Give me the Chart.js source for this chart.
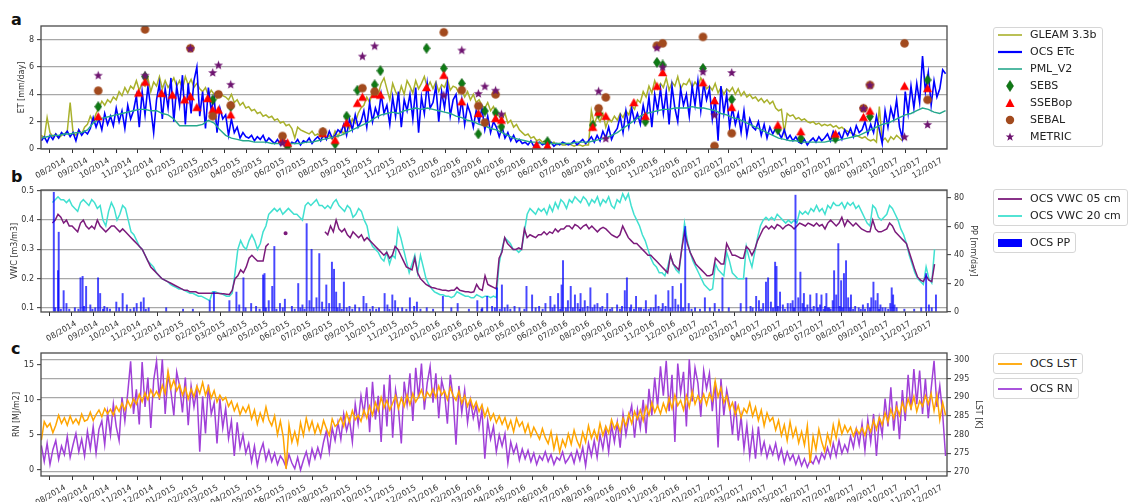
<!DOCTYPE html>
<html>
<head>
<meta charset="utf-8">
<script src="https://cdn.jsdelivr.net/npm/chart.js@4.4.1/dist/chart.umd.min.js"></script>
<style>
  html, body { margin: 0; padding: 0; background: #fff; }
  body { width: 1128px; height: 502px; position: relative; overflow: hidden; font-family: "DejaVu Sans", sans-serif; }
  .pane { position: absolute; left: 0; width: 1128px; }
  .tag { position: absolute; left: 11px; font: bold 16px/16px "DejaVu Sans", sans-serif; color: #111; }
  .legend { position: absolute; box-sizing: border-box; border: 1px solid #d6d6d6; border-radius: 3px; background: #fff; }
  .row { position: absolute; left: 0; height: 14px; font: 11px/14px "DejaVu Sans", sans-serif; color: #222; white-space: nowrap; }
  .row svg { position: absolute; left: 3px; top: 0; }
  .row span { position: absolute; left: 36px; top: 0; }
</style>
</head>
<body>

<div class="tag" style="top:12px">a</div>
<div class="tag" style="top:169px">b</div>
<div class="tag" style="top:341px">c</div>

<div class="pane" style="top:0;height:182px"><canvas id="chartET"></canvas></div>
<div class="pane" style="top:182px;height:160px"><canvas id="chartVWC"></canvas></div>
<div class="pane" style="top:342px;height:160px"><canvas id="chartRN"></canvas></div>

<!-- legends -->
<div class="legend" style="left:993px;top:27px;width:110px;height:120px">
  <div class="row" style="top:0px"><svg width="26" height="14"><line x1="1" y1="7" x2="25" y2="7" stroke="#a9b12c" stroke-width="1.6"/></svg><span>GLEAM 3.3b</span></div>
  <div class="row" style="top:17px"><svg width="26" height="14"><line x1="1" y1="7" x2="25" y2="7" stroke="#0000ff" stroke-width="2.2"/></svg><span>OCS ETc</span></div>
  <div class="row" style="top:34px"><svg width="26" height="14"><line x1="1" y1="7" x2="25" y2="7" stroke="#26a88c" stroke-width="1.6"/></svg><span>PML_V2</span></div>
  <div class="row" style="top:51px"><svg width="26" height="14"><polygon points="13,1.5 16.5,7 13,12.5 9.5,7" fill="#0e7a14" stroke="#0a5a0e" stroke-width="0.6"/></svg><span>SEBS</span></div>
  <div class="row" style="top:68px"><svg width="26" height="14"><polygon points="13,2.5 17.5,11 8.5,11" fill="#ff0000"/></svg><span>SSEBop</span></div>
  <div class="row" style="top:85px"><svg width="26" height="14"><circle cx="13" cy="7" r="4.2" fill="#a24a1e"/></svg><span>SEBAL</span></div>
  <div class="row" style="top:102px"><svg width="26" height="14"><polygon points="13,2.5 14.1,5.6 17.3,5.6 14.7,7.6 15.7,10.8 13,8.9 10.3,10.8 11.3,7.6 8.7,5.6 11.9,5.6" fill="#6e1470"/></svg><span>METRIC</span></div>
</div>

<div class="legend" style="left:993px;top:189px;width:135px;height:37px">
  <div class="row" style="top:2px"><svg width="26" height="14"><line x1="1" y1="7" x2="25" y2="7" stroke="#7b1a7b" stroke-width="1.8"/></svg><span>OCS VWC 05 cm</span></div>
  <div class="row" style="top:19px"><svg width="26" height="14"><line x1="1" y1="7" x2="25" y2="7" stroke="#40e0d0" stroke-width="1.8"/></svg><span>OCS VWC 20 cm</span></div>
</div>
<div class="legend" style="left:993px;top:232px;width:83px;height:21px">
  <div class="row" style="top:3px"><svg width="26" height="14"><rect x="1" y="3" width="24" height="8" fill="#0000ff"/></svg><span>OCS PP</span></div>
</div>

<div class="legend" style="left:993px;top:353px;width:90px;height:21px">
  <div class="row" style="top:3px"><svg width="26" height="14"><line x1="1" y1="7" x2="25" y2="7" stroke="#ffa500" stroke-width="1.8"/></svg><span>OCS LST</span></div>
</div>
<div class="legend" style="left:993px;top:378px;width:86px;height:21px">
  <div class="row" style="top:3px"><svg width="26" height="14"><line x1="1" y1="7" x2="25" y2="7" stroke="#a040d8" stroke-width="1.8"/></svg><span>OCS RN</span></div>
</div>

<script>
// ---------------------------------------------------------------
// Daily-ish series sampled every 4 days starting 2014-07-20
// ---------------------------------------------------------------
const seriesStart = '2014-07-20';
const seriesStepDays = 4;
const pmlStepDays = 8;
const axisOrigin = '2014-08-01';

// OCS ETc [mm/day]
const ocsETc = [
  0.6,0.9,0.5,1.0,0.7,1.1,0.8,1.2,
  1.0,1.3,0.9,1.2,0.6,1.4,1.0,1.3,
  1.1,1.5,2.3,1.6,2.2,1.4,2.6,1.8,
  2.4,1.7,3.0,2.0,2.8,1.5,3.2,2.2,
  2.8,3.9,1.6,4.2,2.5,4.6,3.0,1.2,
  3.6,4.8,2.2,4.4,3.0,5.2,2.0,4.6,
  3.2,5.4,1.8,4.8,2.6,5.0,6.0,2.4,
  4.2,1.5,4.5,2.8,3.8,1.2,3.0,2.2,
  2.5,1.0,2.2,1.2,1.6,0.8,1.2,0.9,
  0.8,1.0,0.6,0.9,0.7,1.0,0.5,0.8,
  0.6,0.4,0.7,0.3,0.5,0.6,0.2,0.5,
  0.4,0.7,0.3,0.6,0.5,0.8,0.4,0.7,
  0.9,0.6,1.1,0.7,1.3,0.8,1.0,1.4,
  1.2,1.8,1.0,2.2,1.4,2.5,1.6,2.0,
  2.8,1.6,3.4,2.0,3.0,2.4,4.0,2.6,
  3.2,1.8,3.8,2.4,4.2,1.6,3.6,2.8,
  4.0,2.2,4.5,1.2,3.8,2.6,4.8,3.0,
  3.4,4.6,2.0,4.2,3.0,4.8,2.4,3.6,
  4.0,2.2,3.6,1.8,3.2,2.6,1.6,2.8,
  2.0,3.0,1.4,2.4,1.2,2.0,1.6,0.9,
  1.6,0.8,1.2,0.6,1.0,0.5,0.7,0.4,
  0.5,0.3,0.6,0.2,0.4,0.5,0.3,0.4,
  0.3,0.5,0.2,0.4,0.3,0.5,0.4,0.3,
  0.4,0.6,0.3,0.5,0.7,0.4,0.6,0.9,
  0.5,1.0,0.6,1.3,0.8,1.6,0.7,1.2,
  1.5,2.4,1.2,2.8,1.6,3.0,2.0,2.6,
  1.8,3.2,2.2,3.8,1.6,4.0,2.8,4.4,
  2.6,4.2,1.8,4.6,3.0,2.0,4.4,3.2,
  4.0,2.4,4.6,3.2,5.0,2.8,4.8,3.6,
  4.4,2.2,3.8,0.6,4.6,2.6,4.0,1.6,
  3.0,1.8,2.6,1.2,2.8,1.0,2.2,1.6,
  1.4,2.0,1.0,1.8,0.8,1.6,1.1,1.5,
  1.2,0.8,1.4,0.7,1.0,0.6,0.9,0.5,
  0.4,0.7,0.3,0.6,0.8,0.5,0.9,0.6,
  0.8,1.1,0.6,1.3,0.9,1.2,0.7,1.4,
  1.0,1.5,0.9,1.7,1.2,1.4,2.0,1.1,
  1.8,1.2,2.4,1.4,0.4,2.8,1.6,3.0,
  2.2,3.6,1.6,0.8,4.2,2.6,4.6,3.0,
  4.8,3.4,6.8,4.2,5.6,3.2,5.0,3.8,
  4.4,5.8,5.5
];

// GLEAM 3.3b ET [mm/day]
const gleamET = [
  1.0,0.8,2.3,1.2,0.9,1.1,0.8,1.0,
  1.1,1.3,3.4,1.2,1.0,1.4,1.1,1.6,
  1.8,2.4,2.0,2.6,3.0,3.5,3.2,3.6,
  3.4,3.8,3.6,4.2,3.9,4.5,4.1,4.6,
  4.4,5.0,4.3,4.8,4.6,5.2,4.2,4.9,
  4.6,5.3,4.4,5.0,4.5,4.8,5.2,4.6,
  5.0,4.4,5.3,4.7,5.1,4.5,4.8,4.4,
  4.2,4.5,3.9,4.3,4.0,3.7,4.1,3.9,
  3.8,3.6,4.0,3.4,3.6,3.2,3.4,3.0,
  3.1,2.8,2.9,2.6,2.7,2.4,2.5,2.3,
  2.4,2.1,2.2,1.9,2.0,1.7,1.8,1.5,
  0.8,1.6,1.4,1.3,1.2,1.1,1.3,1.0,
  1.1,0.9,1.2,0.8,1.0,0.7,1.3,0.9,
  1.4,1.1,1.8,1.5,2.2,1.9,2.6,3.0,
  3.2,3.8,3.4,4.2,4.6,4.0,4.8,5.2,
  4.4,3.6,4.8,4.2,3.8,4.6,4.0,5.0,
  4.6,4.1,5.0,4.4,4.8,5.3,4.5,4.9,
  4.4,4.9,4.2,4.7,4.5,5.1,4.3,4.6,
  4.5,4.1,4.3,3.8,4.2,3.6,4.0,3.4,
  3.6,3.2,3.0,3.4,2.8,3.1,2.6,2.4,
  2.2,2.6,1.9,2.1,1.6,1.8,1.4,1.2,
  1.0,1.1,0.8,0.9,0.6,0.7,0.5,0.6,
  0.5,0.4,0.5,0.3,0.4,0.3,0.3,0.4,
  0.3,0.2,0.3,0.3,0.2,0.3,0.3,2.8,
  1.8,2.4,2.0,2.6,1.6,2.2,2.0,2.4,
  2.1,2.6,2.3,2.8,2.5,3.2,2.9,3.6,
  3.4,4.2,3.8,4.6,4.1,5.0,4.4,4.8,
  4.5,5.2,4.3,4.9,4.6,5.3,4.4,4.8,
  4.7,5.1,4.5,4.9,4.6,5.2,4.8,4.4,
  4.6,4.3,4.8,4.1,4.5,4.0,4.4,4.2,
  4.5,4.0,4.4,3.9,4.2,3.8,4.0,3.7,
  3.8,3.5,3.7,3.4,3.6,3.3,3.5,3.0,
  2.8,2.9,1.2,2.6,2.4,2.5,2.2,2.3,
  2.1,2.2,2.0,1.9,2.0,1.8,1.9,1.7,
  1.8,1.7,1.8,1.6,1.7,1.5,1.6,1.4,
  1.3,1.2,1.1,1.0,0.9,0.8,0.9,0.7,
  0.6,0.7,0.5,3.1,0.6,0.8,0.5,0.9,
  0.7,1.0,0.8,0.6
];

// PML_V2 ET [mm/day], 8-day composites
const pmlET = [
  0.8,0.9,1.0,1.0,1.1,1.1,1.2,1.2,
  1.4,1.9,2.2,2.3,2.4,2.5,2.6,2.7,
  2.8,2.9,2.9,2.8,2.8,2.6,2.5,2.2,
  1.7,1.7,1.7,1.7,1.8,2.1,1.9,1.4,
  1.0,0.8,0.7,0.6,0.6,0.5,0.5,0.5,
  0.4,0.4,0.4,0.4,0.4,0.4,0.5,0.5,
  0.6,0.7,0.8,0.9,1.0,1.2,1.4,1.6,
  1.8,2.0,2.3,2.5,2.6,2.7,2.6,2.8,
  2.9,3.0,2.9,3.0,2.9,2.8,2.7,2.6,
  2.4,2.3,2.1,2.0,1.8,1.7,1.5,1.4,
  1.2,1.0,0.8,0.7,0.6,0.5,0.5,0.4,
  0.4,0.4,0.4,0.4,0.4,0.5,0.5,0.5,
  0.6,0.7,0.8,1.0,1.2,1.5,1.8,2.1,
  2.4,2.6,2.7,2.8,2.9,2.9,3.0,3.0,
  3.0,3.1,3.0,3.0,2.9,2.8,2.6,2.5,
  2.3,2.2,2.0,1.8,1.6,1.4,1.2,1.0,
  0.8,0.7,0.6,0.6,0.5,0.5,0.5,0.5,
  0.5,0.6,0.6,0.7,0.8,0.9,1.0,1.2,
  1.4,1.6,1.8,1.9,2.1,2.3,2.5,2.6,
  2.8,3.0,2.9,2.7,2.6,2.8
];

// Satellite model ET estimates [mm/day] on overpass dates
const sebsDates = ['2014-10-07','2014-12-11','2015-03-15','2015-04-09','2015-06-27','2015-08-15','2015-09-01','2015-09-17','2015-10-02','2015-10-26','2015-11-03','2016-01-06','2016-01-30','2016-02-24','2016-03-18','2016-03-27','2016-04-11','2016-04-19','2016-06-22','2016-08-24','2016-09-01','2016-11-05','2016-11-21','2016-11-29','2017-01-24','2017-03-05','2017-05-08','2017-06-09','2017-07-27','2017-09-13','2017-12-02'];
const sebsET = [3.1,5.3,3.6,3.1,0.17,1.2,0.37,2.4,4.3,4.7,5.73,7.37,5.9,4.8,1.1,2.78,2.66,1.63,0.54,1.75,2.6,2.0,6.34,6.15,5.9,3.63,1.4,0.78,0.78,2.37,5.05];

const ssebopDates = ['2014-10-07','2014-12-02','2014-12-11','2015-01-03','2015-01-18','2015-02-04','2015-02-12','2015-02-21','2015-03-08','2015-03-15','2015-03-23','2015-04-09','2015-06-20','2015-06-27','2015-08-15','2015-09-01','2015-09-17','2015-10-02','2015-10-09','2015-10-26','2015-11-03','2016-01-06','2016-01-30','2016-02-24','2016-03-18','2016-04-11','2016-04-19','2016-06-07','2016-06-22','2016-08-24','2016-09-01','2016-09-11','2016-10-20','2016-11-05','2016-11-21','2016-11-29','2017-01-24','2017-02-09','2017-03-05','2017-05-08','2017-06-09','2017-07-27','2017-09-04','2017-09-13','2017-10-31','2017-12-02'];
const ssebopET = [2.37,4.1,4.9,4.07,3.95,3.6,3.83,3.05,3.7,2.85,2.85,2.5,0.7,0.45,1.15,0.65,1.9,3.35,3.8,4.0,3.95,4.5,5.4,3.46,2.6,2.24,2.12,0.3,0.24,1.6,2.7,2.4,3.4,2.4,4.6,5.6,4.85,3.54,3.05,1.75,1.27,1.1,2.32,2.78,4.6,4.44];

const sebalDates = ['2014-10-07','2014-12-11','2015-02-12','2015-03-15','2015-03-23','2015-04-09','2015-06-20','2015-08-15','2015-10-09','2015-10-26','2016-01-30','2016-02-24','2016-03-18','2016-03-27','2016-04-11','2016-09-01','2016-09-11','2016-11-21','2016-11-29','2017-01-24','2017-02-09','2017-03-05','2017-09-04','2017-09-13','2017-10-31','2017-12-02'];
const sebalET = [4.27,8.75,7.37,2.4,4.0,3.2,0.95,1.27,4.45,4.2,8.54,4.3,3.15,1.93,4.0,2.98,3.78,7.56,7.73,8.2,0.22,1.15,2.98,4.68,7.73,3.6];

const metricDates = ['2014-10-07','2014-12-11','2015-02-12','2015-03-15','2015-03-23','2015-04-09','2015-06-20','2015-10-09','2015-10-26','2016-01-30','2016-02-24','2016-03-18','2016-03-27','2016-04-11','2016-04-19','2016-09-01','2016-09-11','2016-11-21','2016-11-29','2017-01-24','2017-02-09','2017-03-05','2017-09-04','2017-09-13','2017-10-31','2017-12-02'];
const metricET = [5.4,5.4,7.37,5.6,6.15,4.73,0.45,6.8,7.55,3.95,7.24,4.07,4.6,4.3,2.56,4.24,0.78,7.41,6.0,5.66,2.5,5.6,2.98,4.68,0.9,1.8];

// Volumetric water content [m3/m3]
const vwc05 = [
  0.39,0.40,0.42,0.41,0.39,0.40,0.38,0.38,
  0.37,0.36,0.39,0.40,0.38,0.37,0.38,0.37,
  0.40,0.38,0.37,0.36,0.37,0.38,0.38,0.37,
  0.36,0.37,0.36,0.35,0.34,0.33,0.32,0.31,
  0.30,0.28,0.26,0.24,0.23,0.22,0.21,0.20,
  0.195,0.19,0.185,0.18,0.175,0.17,0.165,0.16,
  0.16,0.155,0.155,0.155,0.15,0.15,0.15,0.15,
  0.15,0.15,0.15,0.15,0.148,0.148,0.147,0.146,
  0.16,0.20,0.21,0.23,0.22,0.24,0.27,0.28,
  0.27,0.26,0.26,0.26,0.31,0.32,null,null,
  null,null,null,0.355,null,null,null,null,
  null,null,null,null,null,null,null,null,
  null,0.36,0.35,0.38,0.36,0.40,0.37,0.36,
  0.37,0.35,0.34,0.36,0.35,0.34,0.35,0.33,
  0.34,0.33,0.32,0.31,0.30,0.29,0.28,0.29,
  0.27,0.28,0.31,0.30,0.28,0.26,0.24,0.235,
  0.23,0.27,0.22,0.20,0.19,0.18,0.175,0.17,
  0.168,0.165,0.163,0.16,0.16,0.158,0.16,0.16,
  0.17,0.16,0.158,0.155,0.155,0.153,0.155,0.18,
  0.165,0.16,0.21,0.18,0.175,0.17,0.165,0.27,
  0.29,0.34,0.32,0.31,0.30,0.30,0.305,0.30,
  0.37,0.34,0.35,0.345,0.34,0.35,0.35,0.36,
  0.35,0.36,0.355,0.37,0.36,0.37,0.37,0.38,
  0.38,0.37,0.385,0.38,0.37,0.38,0.385,0.37,
  0.38,0.37,0.36,0.37,0.375,0.37,0.36,0.35,
  0.345,0.34,0.35,0.38,0.36,0.34,0.33,0.32,
  0.32,0.31,0.30,0.29,0.28,0.28,0.27,0.26,
  0.25,0.24,0.23,0.22,0.28,0.25,0.24,0.23,
  0.30,0.36,0.32,0.29,0.27,0.25,0.24,0.23,
  0.22,0.21,0.21,0.215,0.27,0.26,0.25,0.25,
  0.32,0.30,0.28,0.28,0.275,0.27,0.27,0.31,
  0.30,0.28,0.30,0.33,0.35,0.37,0.38,0.37,
  0.38,0.37,0.385,0.38,0.37,0.38,0.385,0.38,
  0.37,0.38,0.39,0.385,0.38,0.39,0.385,0.38,
  0.39,0.38,0.385,0.37,0.39,0.40,0.39,0.38,
  0.39,0.41,0.38,0.40,0.39,0.38,0.39,0.38,
  0.37,0.365,0.36,0.36,0.40,0.37,0.36,0.36,
  0.365,0.37,0.39,0.38,0.36,0.35,0.34,0.33,
  0.32,0.29,0.26,0.23,0.205,0.195,0.19,0.21,
  0.195,0.19,0.25
];

const vwc20 = [
  0.46,0.47,0.48,0.47,0.47,0.46,0.47,0.45,
  0.44,0.43,0.46,0.47,0.46,0.45,0.47,0.46,
  0.44,0.45,0.40,0.38,0.43,0.46,0.44,0.40,
  0.42,0.45,0.44,0.40,0.36,0.35,0.33,0.31,
  0.30,0.28,0.26,0.25,0.24,0.22,0.21,0.20,
  0.195,0.19,0.18,0.175,0.17,0.165,0.165,0.16,
  0.155,0.15,0.15,0.145,0.14,0.14,0.135,0.13,
  0.125,0.155,0.155,0.15,0.15,0.145,0.14,0.14,
  0.15,0.22,0.30,0.33,0.31,0.30,0.33,0.35,
  0.33,0.30,0.32,0.36,0.38,0.42,0.43,0.44,
  0.43,0.44,0.42,0.43,0.44,0.43,0.42,0.42,
  0.41,0.40,0.45,0.46,0.45,0.46,0.47,0.45,
  0.45,0.44,0.45,0.44,0.46,0.47,0.45,0.44,
  0.43,0.45,0.44,0.41,0.42,0.44,0.43,0.40,
  0.38,0.33,0.31,0.30,0.29,0.27,0.26,0.29,
  0.25,0.28,0.27,0.37,0.34,0.30,0.26,0.22,
  0.25,0.28,0.22,0.28,0.24,0.20,0.18,0.165,
  0.155,0.15,0.145,0.145,0.14,0.14,0.135,0.14,
  0.155,0.15,0.145,0.14,0.14,0.135,0.135,0.145,
  0.14,0.135,0.14,0.14,0.135,0.14,0.135,0.25,
  0.30,0.34,0.33,0.32,0.30,0.30,0.29,0.30,
  0.36,0.42,0.44,0.43,0.42,0.44,0.43,0.44,
  0.42,0.45,0.43,0.46,0.44,0.47,0.46,0.44,
  0.47,0.46,0.48,0.47,0.46,0.48,0.47,0.45,
  0.47,0.46,0.48,0.45,0.47,0.46,0.48,0.45,
  0.44,0.47,0.46,0.49,0.47,0.49,0.45,0.42,
  0.40,0.38,0.35,0.33,0.30,0.27,0.25,0.24,
  0.22,0.22,0.21,0.24,0.28,0.25,0.23,0.22,
  0.30,0.39,0.33,0.29,0.26,0.24,0.22,0.20,
  0.18,0.17,0.16,0.165,0.25,0.23,0.22,0.21,
  0.29,0.26,0.22,0.21,0.20,0.20,0.20,0.31,
  0.27,0.24,0.29,0.34,0.38,0.40,0.41,0.40,
  0.41,0.40,0.42,0.41,0.40,0.39,0.40,0.39,
  0.40,0.39,0.43,0.42,0.43,0.42,0.44,0.43,
  0.45,0.43,0.44,0.42,0.45,0.44,0.46,0.45,
  0.45,0.46,0.44,0.46,0.45,0.46,0.44,0.45,
  0.43,0.41,0.39,0.38,0.45,0.44,0.41,0.40,
  0.41,0.42,0.45,0.44,0.42,0.40,0.37,0.35,
  0.32,0.28,0.25,0.22,0.20,0.19,0.18,0.24,
  0.20,0.185,0.30
];

// Daily precipitation events: [days after 2014-08-01, mm/day]
const ppEvents = [
  [-10,84],[-8,3],[-4,29],[-3,56],[0,2],[4,15],[8,6],[12,2],[20,3],[25,2],[28,24],[31,25],[33,4],[36,18],
  [42,5],[45,2],[49,3],[53,24],[56,13],[60,2],[62,4],[66,3],[70,2],[79,7],[83,3],[88,13],[94,5],[99,2],
  [104,3],[108,6],[114,7],[118,10],[121,2],[125,3],[150,3],[174,2],[188,2],[212,8],[218,14],[240,8],
  [250,14],[254,5],[260,24],[263,3],[271,6],[278,4],[283,2],[288,26],[290,27],[292,3],[296,8],[301,18],
  [304,46],[307,2],[312,6],[316,3],[319,9],[329,4],[333,2],[338,20],[341,3],[344,5],[347,2],[350,62],
  [354,8],[357,44],[360,3],[364,10],[368,41],[372,7],[375,2],[378,19],[382,6],[386,35],[389,30],[392,14],
  [394,3],[397,6],[400,2],[403,21],[407,3],[411,4],[415,2],[419,5],[425,3],[431,11],[435,6],[440,2],
  [444,4],[449,2],[453,3],[461,13],[465,5],[468,2],[472,12],[476,8],[480,3],[486,3],[492,2],[497,10],
  [503,4],[507,7],[512,2],[521,3],[530,2],[544,11],[556,3],[565,6],[581,2],[593,8],[599,2],[600,3],
  [607,11],[614,4],[618,3],[621,17],[625,2],[628,19],[632,3],[636,5],[640,2],[646,4],[653,3],[660,2],
  [663,18],[671,12],[676,3],[681,4],[686,2],[690,6],[697,11],[700,3],[703,5],[708,13],[711,2],[713,19],
  [715,36],[719,3],[722,8],[726,18],[729,3],[732,12],[736,6],[739,2],[740,13],[743,3],[746,8],[750,4],
  [754,17],[757,3],[760,5],[764,6],[768,3],[771,4],[775,2],[778,13],[782,2],[785,3],[792,5],[796,2],
  [799,4],[803,15],[806,24],[810,3],[812,5],[816,2],[819,11],[823,3],[826,3],[830,2],[833,8],[837,2],
  [840,3],[844,3],[847,12],[851,4],[855,2],[857,6],[861,4],[865,15],[868,3],[871,18],[875,9],[879,5],
  [883,20],[886,3],[889,60],[894,6],[898,2],[903,3],[910,2],[917,10],[924,3],[931,6],[937,2],[942,24],
  [951,3],[968,6],[976,24],[982,4],[985,3],[990,11],[994,8],[997,2],[1000,6],[1004,21],[1007,24],
  [1011,7],[1014,3],[1017,35],[1019,32],[1021,4],[1024,14],[1028,5],[1031,2],[1035,6],[1039,6],[1042,8],
  [1044,3],[1046,82],[1050,10],[1053,28],[1056,6],[1058,13],[1060,3],[1063,5],[1067,12],[1069,2],
  [1072,4],[1076,13],[1078,3],[1081,5],[1083,12],[1086,2],[1088,4],[1090,13],[1092,3],[1094,3],[1096,2],
  [1099,8],[1101,29],[1104,12],[1107,48],[1109,4],[1111,22],[1113,3],[1115,27],[1118,36],[1121,10],
  [1123,3],[1125,12],[1128,2],[1131,4],[1136,3],[1139,2],[1142,5],[1145,2],[1149,6],[1152,3],[1154,10],
  [1157,21],[1160,8],[1163,13],[1165,2],[1167,5],[1170,3],[1174,3],[1178,2],[1181,6],[1183,17],[1185,12],
  [1187,5],[1190,3],[1201,2],[1215,2],[1225,3],[1232,27],[1236,5],[1240,3],[1246,12]
];

// Net radiation [MJ/m2] and land surface temperature [K]
const ocsRN = [
  3.5,1.2,3.8,0.8,2.9,4.2,1.5,3.4,
  2.2,4.8,1.8,3.6,5.2,2.6,4.4,2.0,
  5.5,3.0,6.2,2.4,5.8,7.0,3.6,8.2,
  5.0,9.4,6.2,4.2,10.4,7.0,11.0,15.5,
  8.0,11.5,6.5,15.4,9.0,13.2,6.0,12.8,
  15.5,10.0,15.8,8.0,13.6,11.2,7.8,14.0,
  12.0,8.2,13.2,6.4,12.0,9.0,11.5,2.6,
  10.5,5.2,12.2,8.0,9.6,3.8,10.2,6.0,
  8.8,4.5,7.0,2.0,6.8,3.2,5.0,2.4,
  3.8,1.2,3.4,0.6,2.6,3.8,1.4,2.8,
  1.2,2.4,0.8,2.0,1.4,0.4,2.2,1.0,
  0.2,1.8,0.0,1.4,2.6,0.8,3.0,1.6,
  3.2,1.8,4.0,5.6,2.6,6.0,4.2,6.8,
  4.4,8.0,5.6,7.2,4.0,9.4,6.6,10.6,
  8.0,11.8,5.4,12.6,7.2,10.6,4.0,12.2,
  6.2,13.6,4.6,11.4,8.8,3.8,12.6,9.4,
  13.8,7.0,14.6,10.2,15.2,8.6,12.4,14.8,
  9.6,13.8,7.4,12.8,11.0,6.6,13.6,10.2,
  3.6,12.0,8.2,11.4,6.8,10.0,7.4,9.2,
  6.0,8.6,1.6,7.0,4.4,6.2,2.6,5.0,
  3.4,5.2,1.0,4.0,2.4,3.6,1.4,3.0,
  1.6,2.8,1.2,2.4,0.8,2.0,1.4,2.6,
  1.2,2.2,0.8,1.8,1.4,2.6,1.0,1.6,
  2.4,1.0,2.8,1.4,3.2,0.6,3.8,2.0,
  4.2,1.8,5.0,3.0,5.8,2.6,6.4,4.0,
  6.8,3.2,8.0,5.0,7.4,9.2,4.6,8.6,
  6.0,10.0,5.2,11.6,7.8,13.2,9.0,14.8,
  10.6,15.6,8.4,13.6,4.0,15.2,11.0,14.0,
  6.2,15.8,9.8,14.6,12.4,7.6,14.2,11.6,
  13.8,8.4,12.6,3.2,13.0,7.8,11.4,9.2,
  5.0,9.8,4.2,7.6,3.0,6.4,2.0,5.6,
  1.6,6.2,2.4,4.0,1.8,3.4,2.2,3.8,
  1.6,3.0,1.0,2.6,1.4,2.2,0.8,2.0,
  0.6,1.6,0.4,1.4,0.9,2.0,1.0,2.4,
  1.6,3.2,1.8,3.8,2.0,4.2,2.4,3.6,
  2.6,4.8,3.2,5.8,3.6,6.6,2.8,7.2,
  4.0,8.0,2.0,7.4,5.0,10.2,6.2,11.8,
  5.6,9.8,4.4,11.4,7.0,13.6,8.6,14.4,
  9.4,14.2,8.0,13.0,7.4,11.6,15.6,9.0,
  12.0,8.0,2.0
];

const ocsLST = [
  278.5,283.5,282.0,283.0,280.5,282.5,285.2,283.0,
  284.5,282.5,285.0,283.0,284.2,282.8,285.5,283.6,
  284.0,286.0,283.8,285.4,286.6,284.8,287.0,285.6,
  286.8,285.2,287.6,286.2,288.4,286.6,289.2,287.4,
  289.6,288.2,290.8,288.8,291.2,289.4,292.0,290.2,
  291.6,290.0,293.2,291.0,297.0,292.4,294.6,291.8,
  293.4,290.6,292.6,289.6,292.2,290.2,293.0,291.0,
  294.0,290.6,292.8,289.8,291.8,288.8,290.6,289.2,
  290.0,287.6,289.0,286.4,288.2,285.4,287.4,286.0,
  287.8,284.2,286.6,282.8,285.8,283.6,287.4,284.0,
  282.4,285.0,280.0,283.6,279.4,270.8,282.6,278.0,
  280.8,277.6,283.2,279.8,284.4,281.2,283.6,280.4,
  282.8,280.4,283.8,281.6,279.8,284.2,282.2,283.0,
  284.6,282.2,285.8,283.4,286.4,284.0,285.2,283.6,
  286.6,284.4,287.6,285.2,288.6,286.4,290.0,287.2,
  289.2,286.6,288.4,290.4,287.0,289.8,287.6,290.6,
  288.0,291.0,288.8,290.2,292.0,289.4,291.4,290.2,
  292.2,290.0,293.0,290.6,291.8,289.4,292.6,290.4,
  289.2,291.6,288.4,290.4,287.6,289.6,287.0,288.8,
  286.2,288.0,284.8,287.0,284.0,285.6,283.2,285.0,
  282.8,284.6,281.6,283.8,280.8,284.4,282.2,283.4,
  280.6,282.8,279.6,282.0,280.4,278.8,281.6,279.2,
  277.6,280.8,276.2,279.6,275.4,278.6,276.8,280.2,
  277.4,281.2,278.4,276.6,280.6,278.0,282.4,279.0,
  281.2,278.8,283.0,279.8,282.2,280.4,284.0,281.6,
  283.2,280.8,284.4,282.4,285.6,283.0,286.2,284.2,
  286.6,283.8,287.6,285.2,288.6,286.0,287.8,285.6,
  288.4,286.2,289.8,287.0,290.6,287.8,289.2,286.6,
  290.4,287.4,291.6,288.2,290.4,288.6,290.8,288.0,
  291.0,289.2,294.4,290.2,292.6,288.6,290.4,286.8,
  288.6,285.4,287.8,284.6,287.0,285.8,288.6,285.0,
  287.4,283.8,286.6,282.4,285.8,283.6,284.6,281.2,
  283.8,279.8,282.6,278.4,283.4,279.4,281.8,277.8,
  280.8,277.2,282.4,272.4,279.6,276.0,281.4,278.0,
  275.6,280.2,277.4,282.6,279.0,283.6,280.2,282.4,
  280.6,282.0,279.6,281.6,280.2,281.8,279.8,282.6,
  280.8,283.8,281.4,284.6,282.6,285.8,283.4,286.8,
  284.4,287.4,285.2,288.6,286.2,289.6,287.0,290.2,
  286.2,289.0,287.6,290.4,288.2,291.0,286.4,290.6,
  284.0,288.6,285.2
];

// Axis tick values
const etTicks = [0, 2, 4, 6, 8];
const vwcTicks = [0.1, 0.2, 0.3, 0.4, 0.5];
const ppTicks = [0, 20, 40, 60, 80];
const rnTicks = [0, 5, 10, 15];
const lstTicks = [270, 275, 280, 285, 290, 295, 300];
const monthTickCount = 41; // 08/2014 .. 12/2017

// ---------------------------------------------------------------
// helpers
// ---------------------------------------------------------------
const DAY = 86400000;
const originMs = Date.parse(axisOrigin + 'T00:00:00Z');
const dayOf = iso => Math.round((Date.parse(iso + 'T00:00:00Z') - originMs) / DAY);
const startDay = dayOf(seriesStart);
const series = (vals, step) => vals.map((v, i) => ({ x: startDay + i * step, y: v }));
const dated = (dates, vals) => dates.map((d, i) => ({ x: dayOf(d), y: vals[i] }));

const monthTicks = [];
for (let i = 0; i < monthTickCount; i++) {
  const d = new Date(Date.UTC(2014, 7 + i, 1));
  monthTicks.push({
    value: Math.round((d.getTime() - originMs) / DAY),
    label: String(d.getUTCMonth() + 1).padStart(2, '0') + '/' + d.getUTCFullYear()
  });
}
const monthLabel = {};
monthTicks.forEach(t => { monthLabel[t.value] = t.label; });

const X_MIN = -12.5, X_MAX = 1246;
const TICK_FONT = { family: 'DejaVu Sans', size: 8 };
const TICK_COLOR = '#333';
const GRID_COLOR = '#a8a8a8';

function fixedTicks(list) {
  return scale => { scale.ticks = list.map(v => ({ value: v })); };
}

function xAxis(height) {
  return {
    type: 'linear', min: X_MIN, max: X_MAX,
    afterBuildTicks: scale => { scale.ticks = monthTicks.map(t => ({ value: t.value })); },
    afterFit: s => { s.height = height; },
    grid: { drawOnChartArea: false, tickLength: 4, tickColor: '#333', tickWidth: 1 },
    border: { display: false },
    ticks: {
      autoSkip: false, minRotation: 30, maxRotation: 30, padding: 3, labelOffset: 15,
      font: TICK_FONT, color: TICK_COLOR,
      callback: v => monthLabel[v] || ''
    }
  };
}

function yAxis(opts) {
  return {
    type: 'linear', position: opts.position, min: opts.min, max: opts.max,
    afterBuildTicks: fixedTicks(opts.ticks),
    afterFit: s => { s.width = opts.width; },
    grid: {
      drawOnChartArea: !!opts.grid, color: GRID_COLOR, lineWidth: 1.3,
      tickLength: 4, tickColor: '#333', tickWidth: 1
    },
    border: { display: false },
    ticks: { font: TICK_FONT, color: TICK_COLOR, padding: 3, callback: opts.fmt || (v => String(v)) },
    title: {
      display: true, text: opts.title, color: '#333',
      font: { family: 'DejaVu Sans', size: 8 }, padding: { top: opts.titlePad, bottom: 0 }
    }
  };
}

// Draws the closed frame around each plotting area
const framePlugin = {
  id: 'frame',
  afterDraw(chart) {
    const { ctx, chartArea: a } = chart;
    ctx.save();
    ctx.strokeStyle = '#4a4a4a';
    ctx.lineWidth = 1.3;
    ctx.strokeRect(a.left, a.top, a.right - a.left, a.bottom - a.top);
    ctx.restore();
  }
};

// Marker images for the satellite-model points
function marker(shape, fill, edge) {
  const c = document.createElement('canvas');
  const w = shape === 'diamond' ? 8 : 11, h = 11;
  c.width = w; c.height = h;
  const g = c.getContext('2d');
  g.fillStyle = fill;
  g.beginPath();
  const cx = w / 2, cy = h / 2;
  if (shape === 'diamond') {
    g.moveTo(cx, 0.5); g.lineTo(w - 0.5, cy); g.lineTo(cx, h - 0.5); g.lineTo(0.5, cy);
  } else if (shape === 'triangle') {
    g.moveTo(cx, 1); g.lineTo(cx + 4.6, cy + 3.8); g.lineTo(cx - 4.6, cy + 3.8);
  } else if (shape === 'circle') {
    g.arc(cx, cy, 4.3, 0, Math.PI * 2);
  } else if (shape === 'star') {
    for (let k = 0; k < 10; k++) {
      const r = k % 2 === 0 ? 4.8 : 2.0;
      const ang = -Math.PI / 2 + k * Math.PI / 5;
      const px = cx + r * Math.cos(ang), py = cy + 0.4 + r * Math.sin(ang);
      k === 0 ? g.moveTo(px, py) : g.lineTo(px, py);
    }
  }
  g.closePath();
  g.fill();
  if (edge) { g.strokeStyle = edge; g.lineWidth = 0.6; g.stroke(); }
  return c;
}

Chart.defaults.font.family = 'DejaVu Sans';
Chart.defaults.animation = false;
Chart.defaults.responsive = false;
Chart.defaults.devicePixelRatio = 1;

function makeCanvas(id, h) {
  const cv = document.getElementById(id);
  cv.width = 1128; cv.height = h;
  cv.style.width = '1128px'; cv.style.height = h + 'px';
  return cv;
}

const lineStyle = (color, width) => ({
  type: 'line', borderColor: color, backgroundColor: color, borderWidth: width,
  pointRadius: 0, pointHoverRadius: 0, tension: 0, fill: false
});
const common = {
  responsive: false, animation: false, events: [],
  plugins: { legend: { display: false }, tooltip: { enabled: false } }
};

// ---------------------------------------------------------------
// (a) evapotranspiration
// ---------------------------------------------------------------
new Chart(makeCanvas('chartET', 182), {
  type: 'line',
  data: {
    datasets: [
      { label: 'METRIC', type: 'scatter', data: dated(metricDates, metricET), pointStyle: marker('star', '#6e1470'), pointRadius: 5, order: 0 },
      { label: 'SEBAL', type: 'scatter', data: dated(sebalDates, sebalET), pointStyle: marker('circle', '#a24a1e'), pointRadius: 5, order: 1 },
      { label: 'SSEBop', type: 'scatter', data: dated(ssebopDates, ssebopET), pointStyle: marker('triangle', '#ff0000'), pointRadius: 5, order: 2 },
      { label: 'SEBS', type: 'scatter', data: dated(sebsDates, sebsET), pointStyle: marker('diamond', '#0e7a14', '#0a5a0e'), pointRadius: 5, order: 3 },
      Object.assign({ label: 'PML_V2', data: series(pmlET, pmlStepDays), order: 4 }, lineStyle('#26a88c', 1.4)),
      Object.assign({ label: 'OCS ETc', data: series(ocsETc, seriesStepDays), order: 5 }, lineStyle('#0000ff', 1.6)),
      Object.assign({ label: 'GLEAM 3.3b', data: series(gleamET, seriesStepDays), order: 6 }, lineStyle('#a9b12c', 1.5))
    ]
  },
  options: Object.assign({}, common, {
    layout: { padding: { top: 26, right: 181, left: 0, bottom: 0 } },
    scales: {
      x: xAxis(33),
      y: yAxis({ position: 'left', min: 0, max: 9, ticks: etTicks, width: 41, grid: true,
                 title: 'ET [mm/day]', titlePad: 17 })
    }
  }),
  plugins: [framePlugin]
});

// ---------------------------------------------------------------
// (b) soil moisture and precipitation
// ---------------------------------------------------------------
const isolated = ctx => {
  const i = ctx.dataIndex;
  return vwc05[i] != null && vwc05[i - 1] == null && vwc05[i + 1] == null ? 1.3 : 0;
};
new Chart(makeCanvas('chartVWC', 160), {
  type: 'line',
  data: {
    datasets: [
      { label: 'OCS PP', type: 'bar', yAxisID: 'yPP', data: ppEvents.map(e => ({ x: e[0], y: e[1] })),
        backgroundColor: 'rgba(0,0,255,0.72)', borderWidth: 0, barThickness: 1.3, grouped: false, order: 0 },
      Object.assign({ label: 'OCS VWC 05 cm', yAxisID: 'y', data: series(vwc05, seriesStepDays), order: 1 },
        lineStyle('#7b1a7b', 1.5), { pointRadius: isolated }),
      Object.assign({ label: 'OCS VWC 20 cm', yAxisID: 'y', data: series(vwc20, seriesStepDays), order: 2 },
        lineStyle('#40e0d0', 1.5))
    ]
  },
  options: Object.assign({}, common, {
    layout: { padding: { top: 8, right: 141, left: 0, bottom: 0 } },
    scales: {
      x: xAxis(30),
      y: yAxis({ position: 'left', min: 0.086, max: 0.503, ticks: vwcTicks, width: 41, grid: true,
                 title: 'VWC [m3/m3]', titlePad: 10, fmt: v => v.toFixed(1) }),
      yPP: yAxis({ position: 'right', min: 0, max: 85.6, ticks: ppTicks, width: 40, grid: false,
                   title: 'PP [mm/day]', titlePad: 9 })
    }
  }),
  plugins: [framePlugin]
});

// ---------------------------------------------------------------
// (c) net radiation and land surface temperature
// ---------------------------------------------------------------
new Chart(makeCanvas('chartRN', 160), {
  type: 'line',
  data: {
    datasets: [
      Object.assign({ label: 'OCS LST', yAxisID: 'yLST', data: series(ocsLST, seriesStepDays), order: 0 },
        lineStyle('#ffa500', 1.5)),
      Object.assign({ label: 'OCS RN', yAxisID: 'y', data: series(ocsRN, seriesStepDays), order: 1 },
        lineStyle('#a040d8', 1.5))
    ]
  },
  options: Object.assign({}, common, {
    layout: { padding: { top: 11, right: 136, left: 0, bottom: 0 } },
    scales: {
      x: xAxis(26),
      y: yAxis({ position: 'left', min: -0.86, max: 16.7, ticks: rnTicks, width: 41, grid: false,
                 title: 'RN [MJ/m2]', titlePad: 12 }),
      yLST: yAxis({ position: 'right', min: 268.9, max: 301.9, ticks: lstTicks, width: 45, grid: true,
                    title: 'LST [K]', titlePad: 9 })
    }
  }),
  plugins: [framePlugin]
});
</script>
</body>
</html>
